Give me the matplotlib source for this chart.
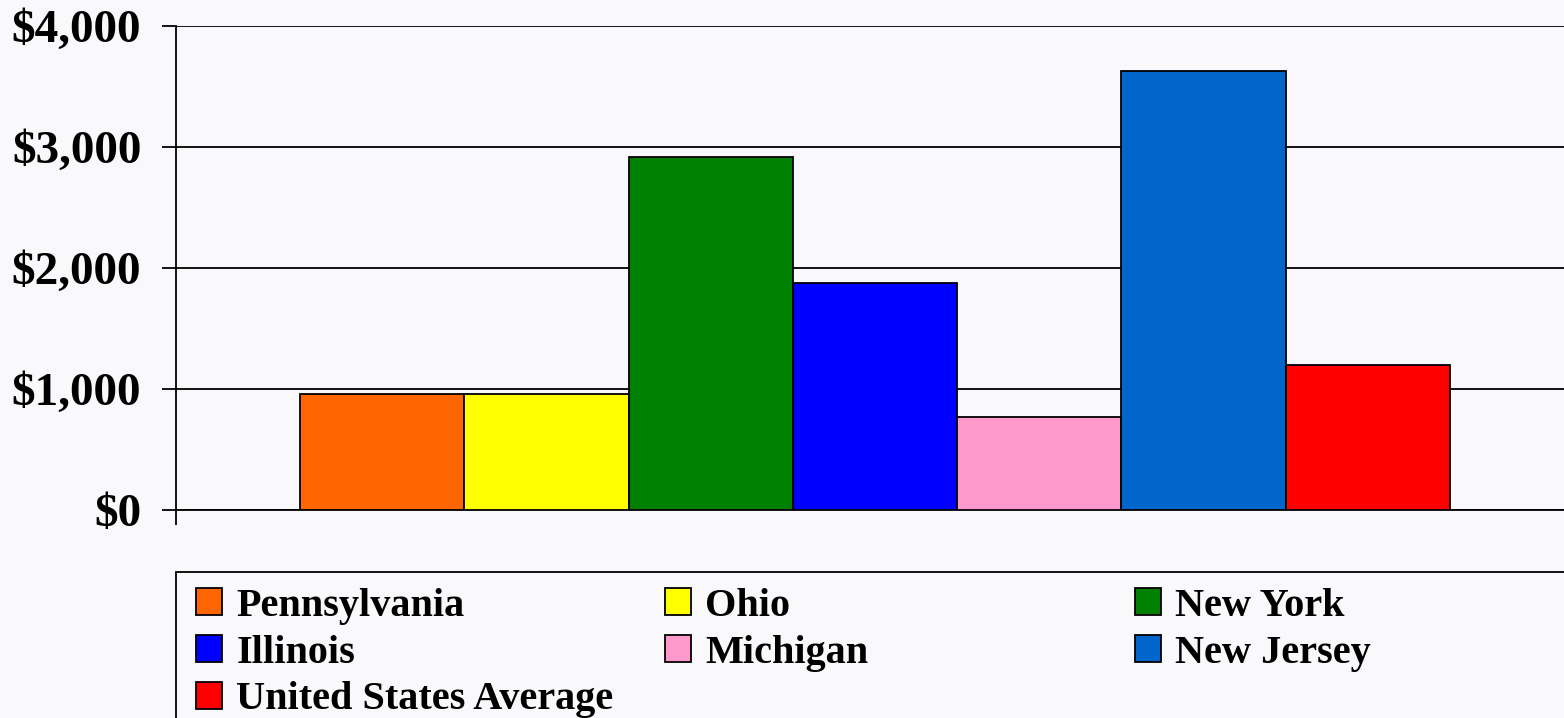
import matplotlib.pyplot as plt
from matplotlib.patches import Rectangle

states = ["Pennsylvania", "Ohio", "New York", "Illinois", "Michigan", "New Jersey", "United States Average"]
values = [959, 959, 2917, 1876, 769, 3628, 1198]
colors = ["#FF6600", "#FFFF00", "#008000", "#0000FF", "#FF99CC", "#0066CC", "#FF0000"]
yticks = [0, 1000, 2000, 3000, 4000]
ytick_labels = ["$0", "$1,000", "$2,000", "$3,000", "$4,000"]

bg = "#f9f9fb"
plt.rcParams['font.family'] = ['Liberation Serif', 'DejaVu Serif']
plt.rcParams['font.weight'] = 'bold'

W, H = 1564, 718
fig = plt.figure(figsize=(W / 100, H / 100), dpi=100, facecolor=bg)
ax = fig.add_axes([176 / W, 1 - 510 / H, (1574 - 176) / W, (510 - 26) / H])
ax.set_facecolor(bg)

bars = []
for i, (s, v, c) in enumerate(zip(states, values, colors)):
    b = ax.bar(i, v, width=1.0, color=c, edgecolor="black", linewidth=1.3, label=s, zorder=3)
    bars.append(b)

ax.set_xlim(-1.255, 7.255)
ax.set_ylim(0, 4000)
ax.set_yticks(yticks)
ax.set_yticklabels(ytick_labels, fontsize=34, fontweight="bold")
ax.set_xticks([-1.255])
ax.set_xticklabels([""])
ax.tick_params(axis="y", length=10, width=1.3, pad=15, color="black")
ax.tick_params(axis="x", length=11, width=1.3, direction="out")
ax.grid(axis="y", color="black", linewidth=1.3, zorder=0)
for side in ["top", "right"]:
    ax.spines[side].set_visible(False)
ax.spines["left"].set_linewidth(1.3)
ax.spines["bottom"].set_linewidth(1.3)

# legend frame
fig.patches.append(Rectangle((176 / W, -0.02), 1.0, 0.02 + (718 - 572) / H,
                             transform=fig.transFigure, facecolor=bg,
                             edgecolor="black", linewidth=1.3, zorder=0))

cols = [[0, 3, 6], [1, 4], [2, 5]]
col_x = [196, 665, 1135]
for idx, x in zip(cols, col_x):
    leg = fig.legend([bars[i] for i in idx], [states[i] for i in idx],
                     loc="upper left", bbox_to_anchor=(x / W, 1 - 588 / H),
                     frameon=False, borderpad=0, borderaxespad=0,
                     handlelength=0.65, handleheight=0.65, handletextpad=0.35,
                     labelspacing=0.24, prop={"size": 29, "weight": "bold"})

fig.savefig("out.png", dpi=100, facecolor=bg)
